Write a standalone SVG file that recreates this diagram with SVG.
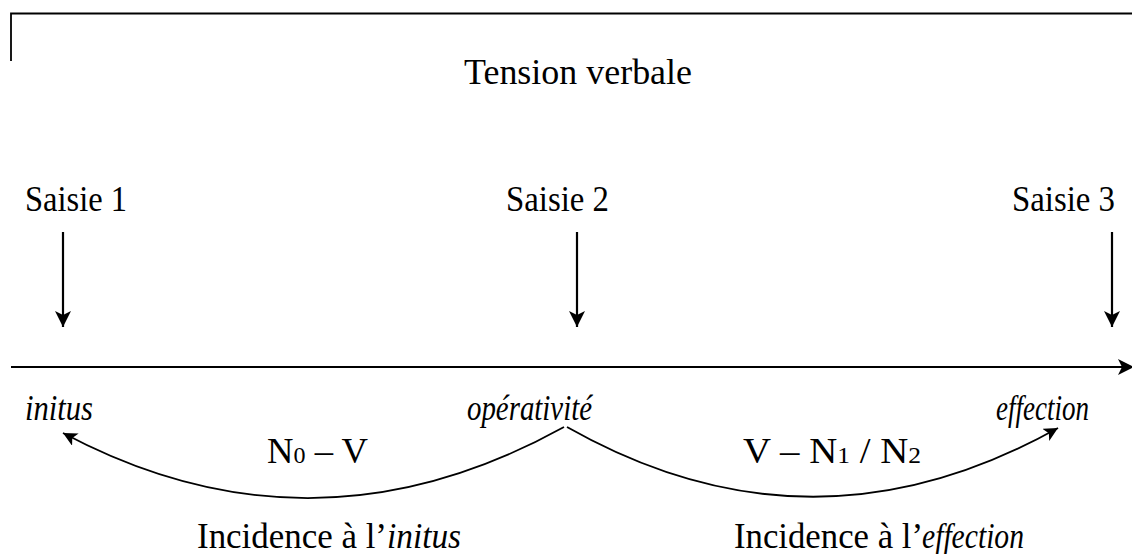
<svg xmlns="http://www.w3.org/2000/svg" width="1132" height="554" viewBox="0 0 1132 554">
  <style>
    .t { font-family: "Liberation Serif", "Times New Roman", serif; font-size: 35px; fill: #000; }
    .i { font-style: italic; }
    .ln { stroke: #000; stroke-width: 2.2; fill: none; }
    .cv { stroke: #000; stroke-width: 1.8; fill: none; }
    .br { stroke: #000; stroke-width: 1.8; fill: none; }
  </style>
  <defs>
    <marker id="ah" viewBox="0 0 16 16" refX="16" refY="8" markerWidth="16" markerHeight="16" markerUnits="userSpaceOnUse" orient="auto">
      <path d="M0,0 L16,8 L0,16 L4,8 z" fill="#000"/>
    </marker>
    <marker id="ahs" viewBox="0 0 16 16" refX="16" refY="8" markerWidth="14" markerHeight="14" markerUnits="userSpaceOnUse" orient="auto">
      <path d="M0,0 L16,8 L0,16 L4,8 z" fill="#000"/>
    </marker>
  </defs>

  <g id="tension">
    <path class="br" d="M11,61 V13.5 H1132"/>
    <text class="t" x="578" y="84" text-anchor="middle" textLength="228" lengthAdjust="spacingAndGlyphs">Tension verbale</text>
  </g>

  <g id="saisie1">
    <text class="t" x="25" y="211" textLength="102" lengthAdjust="spacingAndGlyphs">Saisie 1</text>
  </g>
  <g id="saisie2">
    <text class="t" x="506" y="211" textLength="103" lengthAdjust="spacingAndGlyphs">Saisie 2</text>
  </g>
  <g id="saisie3">
    <text class="t" x="1012" y="211" textLength="103" lengthAdjust="spacingAndGlyphs">Saisie 3</text>
  </g>

  <g id="initus">
    <text class="t i" x="25" y="420" textLength="68" lengthAdjust="spacingAndGlyphs">initus</text>
  </g>
  <g id="operativite">
    <text class="t i" x="467" y="420" textLength="125" lengthAdjust="spacingAndGlyphs">opérativité</text>
  </g>
  <g id="effection">
    <text class="t i" x="996" y="420" textLength="93" lengthAdjust="spacingAndGlyphs">effection</text>
  </g>

  <g id="label-n0v">
    <text class="t" x="267" y="463" textLength="101" lengthAdjust="spacingAndGlyphs">N<tspan font-size="23">0</tspan> – V</text>
  </g>
  <g id="label-vn1n2">
    <text class="t" x="743" y="463" textLength="178" lengthAdjust="spacingAndGlyphs">V – N<tspan font-size="23">1</tspan> / N<tspan font-size="23">2</tspan></text>
  </g>

  <g id="incidence-initus">
    <text class="t" x="197" y="548" textLength="190" lengthAdjust="spacingAndGlyphs">Incidence à l’</text>
    <text class="t i" x="387" y="548" textLength="74" lengthAdjust="spacingAndGlyphs">initus</text>
  </g>
  <g id="incidence-effection">
    <text class="t" x="734" y="548" textLength="189" lengthAdjust="spacingAndGlyphs">Incidence à l’</text>
    <text class="t i" x="922" y="548" textLength="102" lengthAdjust="spacingAndGlyphs">effection</text>
  </g>

  <g id="connectors">
    <line class="ln" x1="11" y1="367" x2="1134" y2="367" marker-end="url(#ah)"/>
    <line class="ln" x1="63" y1="232" x2="63" y2="327" marker-end="url(#ah)"/>
    <line class="ln" x1="577" y1="232" x2="577" y2="327" marker-end="url(#ah)"/>
    <line class="ln" x1="1112" y1="232" x2="1112" y2="327" marker-end="url(#ah)"/>
    <path class="cv" d="M564,427 Q313,566 63,433" marker-end="url(#ahs)"/>
    <path class="cv" d="M567,427 Q812,566 1058,428" marker-end="url(#ahs)"/>
  </g>
</svg>
